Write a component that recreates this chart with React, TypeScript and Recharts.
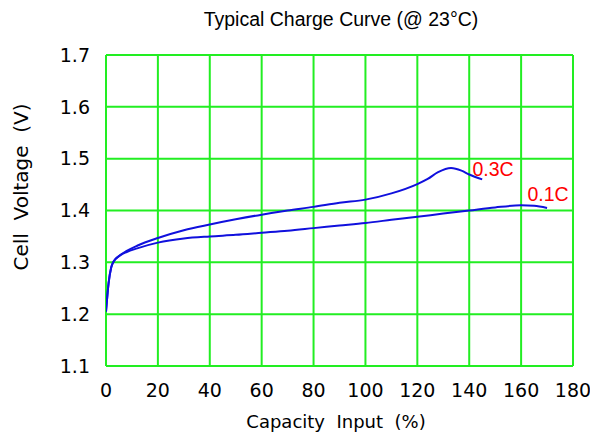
import { LineChart, Line, XAxis, YAxis, CartesianGrid, ReferenceDot } from 'recharts';

// 0.3C charge curve
const rate03X = [0, 1, 2, 3, 5, 8, 12, 20, 30, 40, 50, 60, 70, 80, 90, 100, 110, 120, 124, 128, 133, 137, 140, 145];
const rate03Y = [1.205, 1.26, 1.29, 1.302, 1.312, 1.322, 1.332, 1.347, 1.362, 1.373, 1.383, 1.392, 1.4, 1.407, 1.415, 1.421, 1.433, 1.451, 1.461, 1.474, 1.482, 1.477, 1.4695, 1.46];

// 0.1C charge curve
const rate01X = [0, 1, 2, 3, 5, 8, 12, 20, 30, 40, 50, 60, 70, 80, 90, 100, 110, 120, 130, 140, 150, 160, 165, 170];
const rate01Y = [1.205, 1.26, 1.29, 1.302, 1.312, 1.32, 1.327, 1.338, 1.346, 1.35, 1.353, 1.357, 1.361, 1.366, 1.371, 1.376, 1.382, 1.388, 1.394, 1.4, 1.406, 1.41, 1.409, 1.405];

const xTicks = [0, 20, 40, 60, 80, 100, 120, 140, 160, 180];
const yTicks = [1.1, 1.2, 1.3, 1.4, 1.5, 1.6, 1.7];

const curveLabels = [
  { name: '0.3C', x: 149.2, y: 1.479 },
  { name: '0.1C', x: 170.4, y: 1.431 },
];

const data03 = rate03X.map((x, i) => ({ x, v: rate03Y[i] }));
const data01 = rate01X.map((x, i) => ({ x, v: rate01Y[i] }));

const axisFont = '"DejaVu Sans", sans-serif';
const textFont = '"Liberation Sans", Arial, sans-serif';
const GRID = '#22ee22';
const BLUE = '#1010dd';

export default function App() {
  return (
    <div style={{ position: 'absolute', left: 0, top: 0, width: 590, height: 436, background: '#fff' }}>
      <LineChart width={590} height={436} margin={{ top: 55, right: 17, bottom: 40, left: 0 }}>
        <text x={341} y={26} textAnchor="middle" fontFamily={textFont} fontSize={19.5} fill="#000">
          Typical Charge Curve (@ 23°C)
        </text>
        <CartesianGrid stroke={GRID} strokeWidth={2} horizontalValues={yTicks} verticalValues={xTicks} />
        <XAxis
          type="number"
          dataKey="x"
          domain={[0, 180]}
          ticks={xTicks}
          allowDataOverflow
          height={30}
          axisLine={false}
          tickLine={false}
          tickSize={0}
          tickMargin={18}
          tick={{ fontSize: 19, fill: '#000', fontFamily: axisFont }}
          label={{
            content: () => (
              <text x={336} y={428} textAnchor="middle" fontFamily={axisFont} fontSize={18} fill="#000" style={{ whiteSpace: 'pre' }}>
                {'Capacity  Input  (%)'}
              </text>
            ),
          }}
        />
        <YAxis
          type="number"
          domain={[1.1, 1.7]}
          ticks={yTicks}
          allowDataOverflow
          width={106}
          axisLine={false}
          tickLine={false}
          tickSize={0}
          tickMargin={16}
          tickFormatter={(v: number) => v.toFixed(1)}
          tick={{ fontSize: 19, fill: '#000', fontFamily: axisFont }}
          label={{
            content: () => (
              <text
                x={28}
                y={187}
                transform="rotate(-90 28 187)"
                textAnchor="middle"
                fontFamily={axisFont}
                fontSize={20}
                fill="#000"
                style={{ whiteSpace: 'pre' }}
              >
                {'Cell  Voltage  (V)'}
              </text>
            ),
          }}
        />
        <Line data={data01} dataKey="v" type="monotone" stroke={BLUE} strokeWidth={2} dot={false} isAnimationActive={false} />
        <Line data={data03} dataKey="v" type="monotone" stroke={BLUE} strokeWidth={2} dot={false} isAnimationActive={false} />
        {curveLabels.map((l) => (
          <ReferenceDot
            key={l.name}
            x={l.x}
            y={l.y}
            r={0}
            ifOverflow="visible"
            label={{ value: l.name, position: 'center', fill: '#ff0000', fontSize: 19.5, fontFamily: textFont }}
          />
        ))}
      </LineChart>
    </div>
  );
}
